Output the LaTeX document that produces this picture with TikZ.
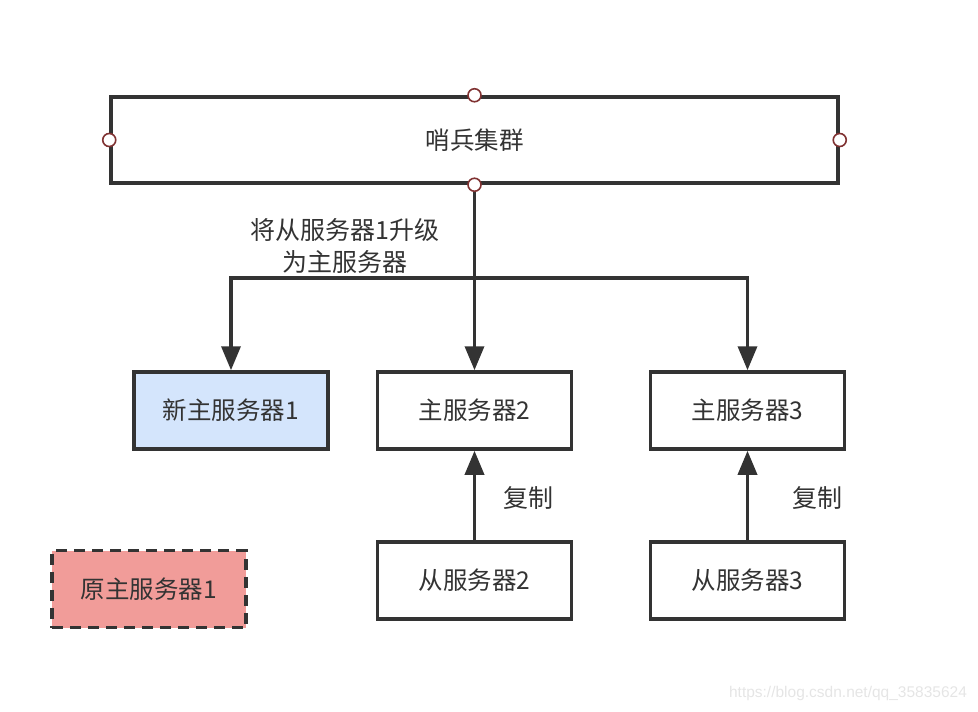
\documentclass[tikz,border=0pt]{standalone}
\usepackage{fontspec}
\setmainfont{Noto Sans CJK SC}
\setsansfont{Liberation Sans}
\usepackage{tikz}
\usetikzlibrary{positioning,calc,arrows.meta}
\definecolor{LineGray}{RGB}{51,51,51}
\definecolor{PortRed}{RGB}{128,50,50}
\definecolor{NewBlue}{RGB}{212,229,252}
\definecolor{OldRed}{RGB}{241,156,153}
\tikzset{
    server/.style={rectangle, draw=LineGray, line width=3.5pt, fill=white, minimum width=194pt, minimum height=77pt, inner sep=0pt, font=\fontsize{24.5}{28}\selectfont, text=LineGray},
    port/.style={circle, draw=PortRed, line width=1.6pt, fill=white, minimum size=13pt, inner sep=0pt},
    link/.style={draw=LineGray, line width=3.5pt, -{Triangle[width=19pt,length=24pt]}},
    note/.style={font=\fontsize{25}{32}\selectfont, text=LineGray, align=center}
}

\begin{document}
\begin{tikzpicture}[x=1pt, y=-1pt]
        \useasboundingbox (0,0) rectangle (978,712);

        % --- 哨兵集群 ---
        \node[server, minimum width=727pt, minimum height=86pt] (cluster) at (474.5,140) {哨兵集群};

        % --- 服务器 ---
        \node[server, fill=NewBlue] (new1) at (231,410.5) {新主服务器1};
        \node[server] (master2) at (474.5,410.5) {主服务器2};
        \node[server] (master3) at (747.5,410.5) {主服务器3};
        \node[server] (slave2) at (474.5,580.5) {从服务器2};
        \node[server] (slave3) at (747.5,580.5) {从服务器3};
        \node[server, fill=OldRed, dash pattern=on 11pt off 7pt] (old1) at (149,589) {原主服务器1};

        % --- 连线 ---
        \coordinate (split) at (474.5,278);
        \draw[link] (cluster.south) -- (master2.north);
        \draw[link] (split) -| (new1.north);
        \draw[link] (split) -| (master3.north);
        \draw[link] (slave2.north) -- (master2.south);
        \draw[link] (slave3.north) -- (master3.south);

        % --- 标签 ---
        \node[note] (promote) at (345,246) {将从服务器1升级\\为主服务器};
        \node[note] (copy2) at (528,498) {复制};
        \node[note] (copy3) at (817,498) {复制};

        % --- 连接点 ---
        \foreach \side in {north,south,west,east}
            \node[port] (port-\side) at (cluster.\side) {};

        % --- 水印 ---
        \node[font=\sffamily\fontsize{15.5}{18}\selectfont, text=black!10] (mark) at (848,693) {https://blog.csdn.net/qq\_35835624};

    \end{tikzpicture}
\end{document}
